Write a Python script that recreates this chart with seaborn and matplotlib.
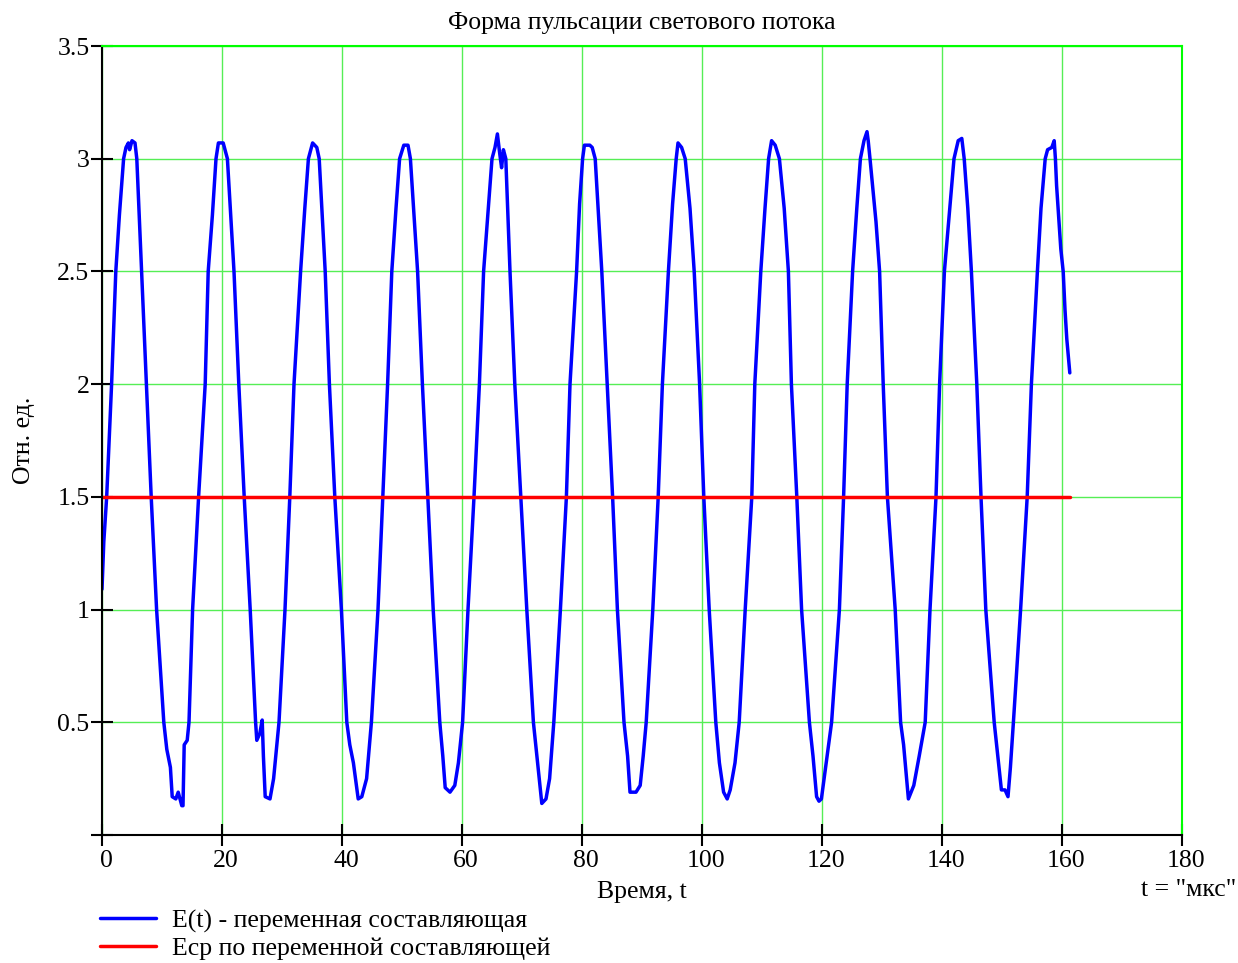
import numpy as np
import matplotlib
matplotlib.use("Agg")
import matplotlib.pyplot as plt
import matplotlib.transforms as mtransforms
import seaborn as sns

# Form of the light flux ripple
t_us = [
    0.0, 0.3, 0.78, 1.6, 2.3, 2.9, 3.6, 4.0, 4.4, 4.6, 5.0, 5.5, 5.8, 6.6, 7.4, 8.2, 9.1, 10.3,
    10.8, 11.4, 11.7, 12.3, 12.7, 13.3, 13.5, 13.7, 14.2, 14.5, 15.1, 16.1, 17.2, 17.7, 18.4, 19.0,
    19.4, 20.2, 20.9, 22.0, 22.8, 23.7, 24.7, 25.6, 25.8, 26.3, 26.7, 26.9, 27.2, 28.0, 28.6, 29.5,
    30.5, 31.3, 32.0, 33.1, 33.8, 34.4, 35.1, 35.8, 36.2, 37.2, 37.9, 38.8, 39.9, 40.8, 41.3, 41.9,
    42.7, 43.3, 44.1, 44.9, 46.0, 46.8, 47.6, 48.3, 49.0, 49.6, 50.3, 51.0, 51.4, 52.6, 53.4, 54.3,
    55.2, 56.3, 56.8, 57.2, 58.0, 58.8, 59.4, 60.1, 61.0, 62.0, 62.9, 63.6, 64.3, 65.0, 65.5, 65.9,
    66.3, 66.6, 66.9, 67.3, 68.0, 68.8, 69.8, 70.8, 71.9, 72.6, 73.3, 74.0, 74.6, 75.3, 76.4, 77.4,
    78.0, 79.1, 79.6, 80.1, 80.4, 81.3, 81.7, 82.2, 83.3, 84.2, 85.1, 85.9, 87.0, 87.6, 88.0, 89.0,
    89.7, 90.2, 90.7, 91.8, 92.7, 93.4, 94.4, 95.1, 95.7, 96.0, 96.6, 97.2, 98.0, 98.7, 99.6, 100.3,
    101.2, 102.3, 102.9, 103.6, 104.2, 104.7, 105.5, 106.2, 107.2, 108.3, 108.8, 109.8, 110.5, 111.1,
    111.6, 112.2, 112.9, 113.7, 114.4, 114.9, 115.8, 116.6, 117.9, 118.5, 119.1, 119.5, 119.9, 120.5,
    121.6, 122.9, 123.6, 124.2, 125.1, 125.8, 126.4, 127.0, 127.5, 127.7, 128.0, 129.0, 129.6, 130.2,
    130.9, 132.2, 133.1, 133.6, 134.4, 134.7, 135.3, 136.2, 137.2, 138.0, 139.0, 139.6, 140.4, 141.2,
    142.0, 142.7, 143.3, 143.7, 144.3, 144.9, 145.8, 146.5, 147.3, 148.7, 149.3, 149.9, 150.5, 151.0,
    151.4, 151.9, 153.1, 154.2, 154.9, 155.9, 156.5, 157.2, 157.6, 158.3, 158.7, 158.9, 159.1, 159.8,
    160.2, 160.5, 160.8, 161.3,
]
E_t = [
    1.09, 1.30, 1.50, 2.00, 2.50, 2.75, 3.00, 3.05, 3.07, 3.04, 3.08, 3.07, 3.00, 2.50, 2.00, 1.50, 1.00, 0.50,
    0.38, 0.30, 0.17, 0.16, 0.19, 0.13, 0.13, 0.40, 0.42, 0.50, 1.00, 1.50, 2.00, 2.50, 2.75, 3.00,
    3.07, 3.07, 3.00, 2.50, 2.00, 1.50, 1.00, 0.50, 0.42, 0.45, 0.51, 0.35, 0.17, 0.16, 0.25, 0.50,
    1.00, 1.50, 2.00, 2.50, 2.78, 3.00, 3.07, 3.05, 3.00, 2.50, 2.00, 1.50, 1.00, 0.50, 0.40, 0.32,
    0.16, 0.17, 0.25, 0.50, 1.00, 1.50, 2.00, 2.50, 2.78, 3.00, 3.06, 3.06, 3.00, 2.50, 2.00, 1.50,
    1.00, 0.50, 0.35, 0.21, 0.19, 0.22, 0.32, 0.50, 1.00, 1.50, 2.00, 2.50, 2.75, 3.00, 3.05, 3.11,
    3.02, 2.96, 3.04, 3.00, 2.50, 2.00, 1.50, 1.00, 0.50, 0.32, 0.14, 0.16, 0.25, 0.50, 1.00, 1.50,
    2.00, 2.50, 2.80, 3.00, 3.06, 3.06, 3.05, 3.00, 2.50, 2.00, 1.50, 1.00, 0.50, 0.35, 0.19, 0.19,
    0.22, 0.35, 0.50, 1.00, 1.50, 2.00, 2.50, 2.80, 3.00, 3.07, 3.05, 3.00, 2.78, 2.50, 2.00, 1.50,
    1.00, 0.50, 0.32, 0.19, 0.16, 0.20, 0.32, 0.50, 1.00, 1.50, 2.00, 2.50, 2.78, 3.00,
    3.08, 3.06, 3.00, 2.78, 2.50, 2.00, 1.50, 1.00, 0.50, 0.35, 0.17, 0.15, 0.16, 0.28,
    0.50, 1.00, 1.50, 2.00, 2.50, 2.78, 3.00, 3.08, 3.12, 3.08, 3.00, 2.72, 2.50, 2.00,
    1.50, 1.00, 0.50, 0.40, 0.16, 0.18, 0.22, 0.35, 0.50, 1.00, 1.50, 2.00, 2.50, 2.75,
    3.00, 3.08, 3.09, 3.00, 2.78, 2.50, 2.00, 1.50, 1.00, 0.50, 0.35, 0.20, 0.20, 0.17,
    0.30, 0.50, 1.00, 1.50, 2.00, 2.50, 2.78, 3.00, 3.04, 3.05, 3.08, 3.00, 2.88, 2.60,
    2.50, 2.33, 2.20, 2.05,
]
E_mean = 1.5  # Eср по переменной составляющей

x_ticks = [0, 20, 40, 60, 80, 100, 120, 140, 160, 180]
y_ticks = [0, 0.5, 1, 1.5, 2, 2.5, 3, 3.5]
y_tick_labels = ["", "0.5", "1", "1.5", "2", "2.5", "3", "3.5"]

sns.set_style("white")
plt.rcParams["font.family"] = ["Liberation Serif", "DejaVu Serif"]
plt.rcParams["text.color"] = "black"
plt.rcParams["axes.labelcolor"] = "black"
plt.rcParams["xtick.color"] = "black"
plt.rcParams["ytick.color"] = "black"

fs = 18.5

fig = plt.figure(figsize=(12.38, 9.63), dpi=100)
ax = fig.add_axes([102 / 1238, 1 - 835 / 963, 1080 / 1238, 789 / 963])

sns.lineplot(x=t_us, y=E_t, sort=False, estimator=None, color="#0000ff",
             linewidth=2.5, ax=ax, label="E(t) - переменная составляющая")
sns.lineplot(x=[t_us[0], t_us[-1]], y=[E_mean, E_mean], estimator=None, color="#ff0000",
             linewidth=2.5, ax=ax, label="Eср по переменной составляющей")

ax.set_xlim(0, 180)
ax.set_ylim(0, 3.5)
ax.set_xticks(x_ticks)
ax.set_yticks(y_ticks)
ax.set_yticklabels(y_tick_labels)
ax.grid(True, color="#55ee55", linewidth=1.0)
ax.set_axisbelow(True)

for side in ["left", "bottom"]:
    ax.spines[side].set_color("black")
    ax.spines[side].set_linewidth(1.5)
for side in ["top", "right"]:
    ax.spines[side].set_color("#00ff00")
    ax.spines[side].set_linewidth(1.5)

ax.tick_params(direction="inout", length=16, width=1.5, colors="black",
               labelsize=fs, left=True, bottom=True, top=False, right=False)
ax.tick_params(axis="y", pad=1)
ax.tick_params(axis="x", pad=3)

# Mathcad puts the x labels a little to the right of the ticks
shift = mtransforms.ScaledTranslation(4 / 100, 0, fig.dpi_scale_trans)
for lbl in ax.get_xticklabels():
    lbl.set_transform(lbl.get_transform() + shift)

ax.set_title("Форма пульсации светового потока", fontsize=fs, pad=12)
ax.set_ylabel("Отн. ед.", fontsize=fs, labelpad=16)
ax.set_xlabel("Время, t", fontsize=fs, labelpad=6)
fig.text(1236 / 1238, 1 - 890 / 963, 't = "мкс"', fontsize=fs, ha="right", va="center")

handles, labels = ax.get_legend_handles_labels()
ax.legend_.remove()
fig.legend(handles, labels, loc="upper left", bbox_to_anchor=(90 / 1238, 1 - 899 / 963),
           frameon=False, fontsize=fs, handlelength=2.15, handletextpad=0.66,
           labelspacing=0.18, borderaxespad=0)

plt.savefig("out.png", dpi=100)
